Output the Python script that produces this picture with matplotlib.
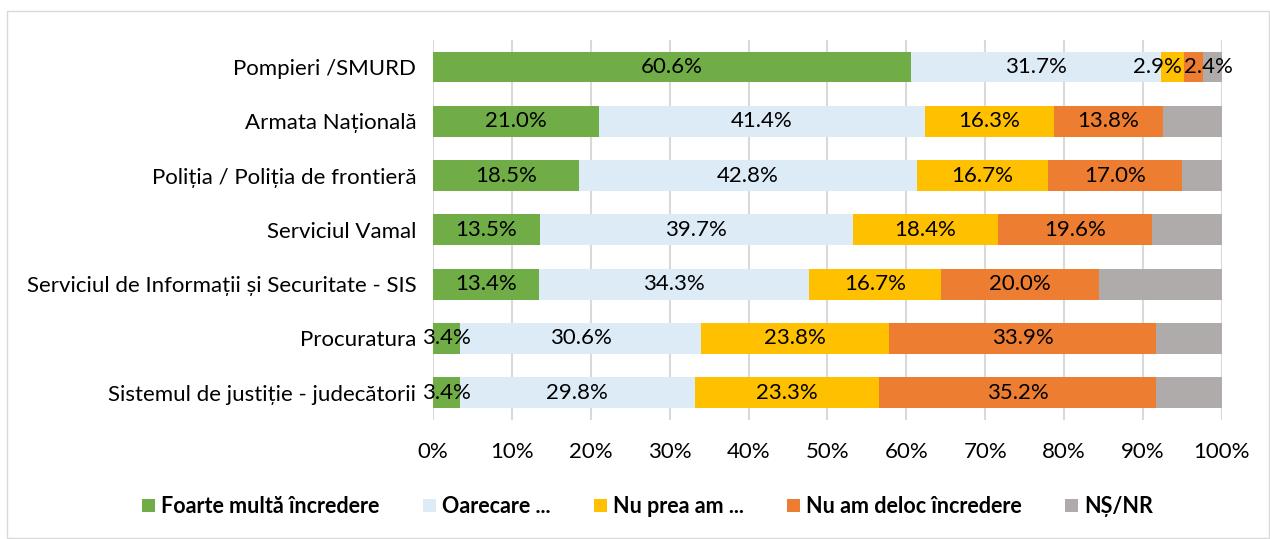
import matplotlib.pyplot as plt
import numpy as np
from matplotlib.patches import Rectangle

plt.rcParams['font.family'] = ['Lato', 'DejaVu Sans']

# date
categorii = ['Pompieri /SMURD', 'Armata Națională', 'Poliția / Poliția de frontieră',
             'Serviciul Vamal', 'Serviciul de Informații și Securitate - SIS',
             'Procuratura', 'Sistemul de justiție - judecătorii']
foarte_multa = [60.6, 21.0, 18.5, 13.5, 13.4, 3.4, 3.4]
oarecare = [31.7, 41.4, 42.8, 39.7, 34.3, 30.6, 29.8]
nu_prea = [2.9, 16.3, 16.7, 18.4, 16.7, 23.8, 23.3]
nu_deloc = [2.4, 13.8, 17.0, 19.6, 20.0, 33.9, 35.2]
ns_nr = [2.4, 7.5, 5.0, 8.8, 15.6, 8.3, 8.3]

serii = ['Foarte multă încredere', 'Oarecare ...', 'Nu prea am ...',
         'Nu am deloc încredere', 'NȘ/NR']
culori = ['#70AD47', '#DDEBF7', '#FFC000', '#ED7D31', '#AFABAB']

fig = plt.figure(figsize=(12.7, 5.39), dpi=100)
ax = fig.add_axes([0.341, 0.221, 0.621, 0.705])

fig.patches.append(Rectangle((7 / 1270, 0.002), 1 - 8 / 1270, 1 - 12 / 539,
                             transform=fig.transFigure, fill=False,
                             edgecolor='#D9D9D9', linewidth=1))

y = np.arange(len(categorii))
date = [foarte_multa, oarecare, nu_prea, nu_deloc, ns_nr]
stanga = np.zeros(len(categorii))
for i, (vals, nume, c) in enumerate(zip(date, serii, culori)):
    vals = np.array(vals)
    ax.barh(y, vals, left=stanga, height=0.57, color=c, label=nume, zorder=2)
    if i < 4:
        for j, (yy, l, v) in enumerate(zip(y, stanga, vals)):
            x = l + v / 2
            # etichete mici suprapuse la Pompieri: decalate ca in Excel
            if j == 0 and i == 2:
                x -= 1.9
            if j == 0 and i == 3:
                x += 1.9
            ax.text(x, yy, f'{v:.1f}%', ha='center', va='center',
                    fontsize=16, color='black', zorder=3)
    stanga += vals

ax.set_ylim(len(categorii) - 0.5, -0.5)
ax.set_xlim(0, 100)
ax.set_yticks(y)
ax.set_yticklabels(categorii, fontsize=16)
ax.set_xticks(np.arange(0, 101, 10))
ax.set_xticklabels([f'{v}%' for v in range(0, 101, 10)], fontsize=16)
ax.tick_params(length=0, pad=12)
ax.tick_params(axis='x', pad=16)
for s in ax.spines.values():
    s.set_visible(False)
ax.grid(axis='x', color='#D9D9D9', linewidth=1.5, zorder=0)
ax.set_axisbelow(True)

leg = fig.legend(loc='center', bbox_to_anchor=(0.51, 0.06), ncol=5, frameon=False,
                 prop={'size': 15.5, 'weight': 'bold'}, handlelength=0.6,
                 handleheight=0.6, handletextpad=0.3, columnspacing=2.0)

plt.savefig('out.png', dpi=100)
